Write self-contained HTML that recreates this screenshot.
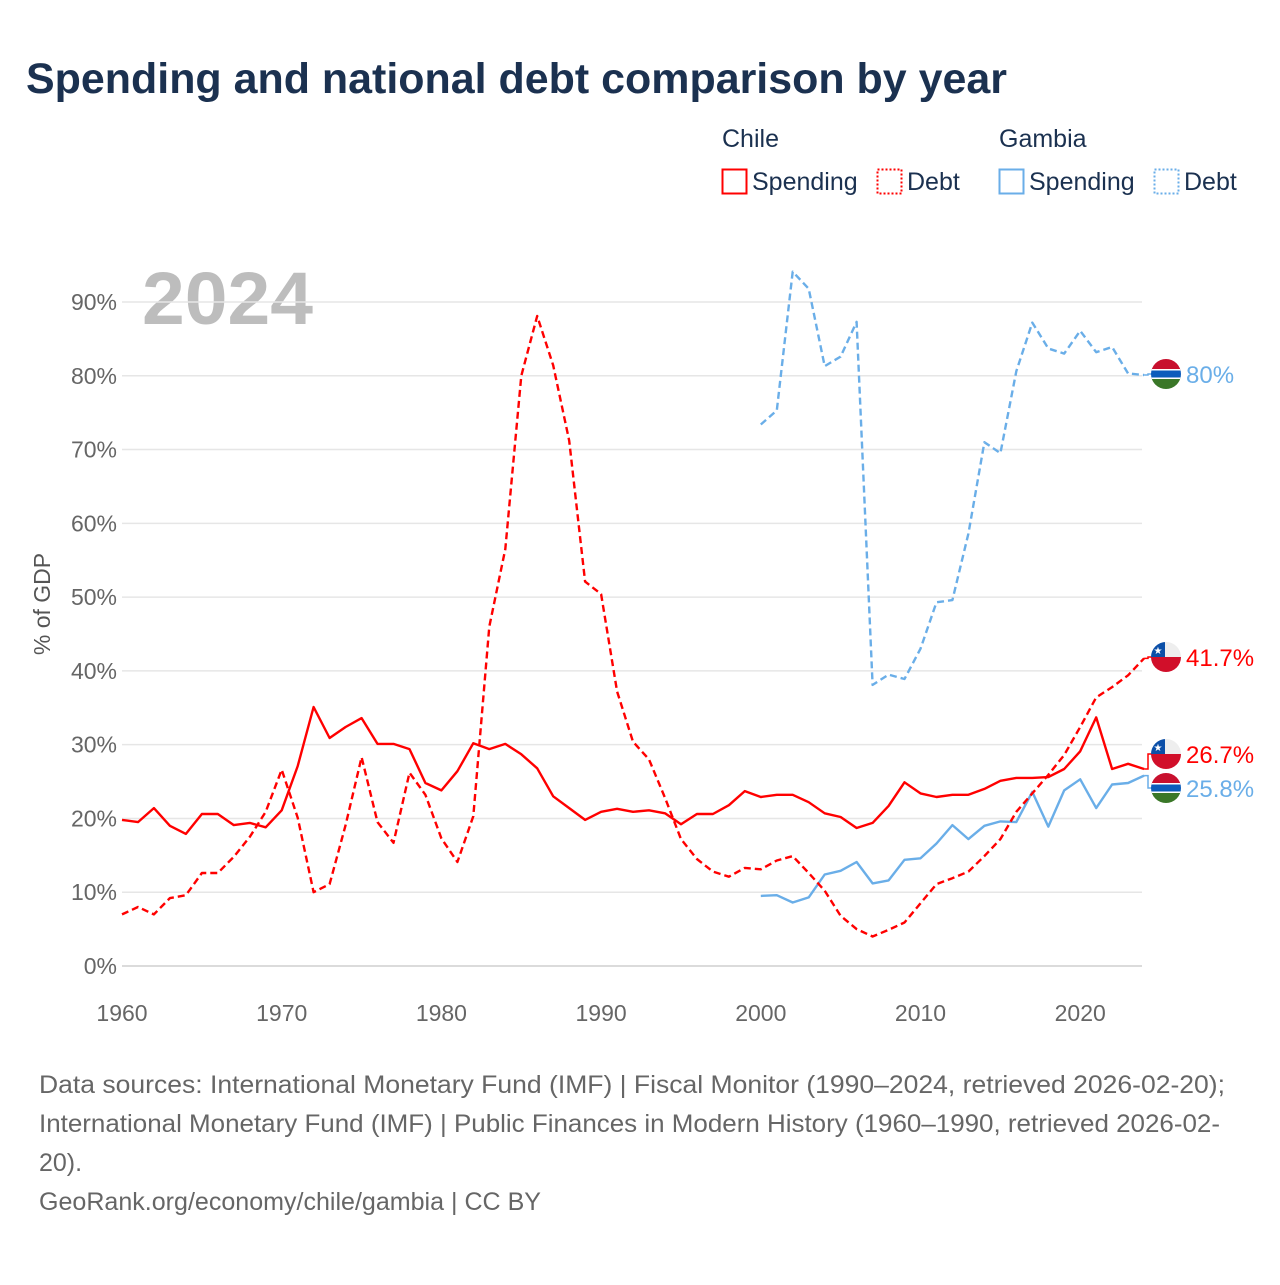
<!DOCTYPE html>
<html><head><meta charset="utf-8">
<style>
body{margin:0;background:#fff;}
svg text{font-family:"Liberation Sans",sans-serif;}
</style></head>
<body>
<svg id="chart" width="1280" height="1280" xmlns="http://www.w3.org/2000/svg">
<defs>
<clipPath id="cf1"><circle cx="0" cy="0" r="15"/></clipPath>
</defs>
<text x="26" y="93" font-size="43" font-weight="bold" fill="#1b3150" textLength="981" lengthAdjust="spacingAndGlyphs">Spending and national debt comparison by year</text>
<g fill="#1b3150" font-size="25">
<text x="722" y="147">Chile</text>
<text x="999" y="147">Gambia</text>
<g><rect x="722.5" y="169.5" width="24" height="24" fill="none" stroke="#ff0000" stroke-width="2"/><text x="752" y="190">Spending</text></g>
<g><rect x="877.5" y="169.5" width="24" height="24" fill="none" stroke="#ff0000" stroke-width="2" stroke-dasharray="2,2"/><text x="907" y="190">Debt</text></g>
<g><rect x="999.5" y="169.5" width="24" height="24" fill="none" stroke="#6aaee8" stroke-width="2"/><text x="1029" y="190">Spending</text></g>
<g><rect x="1154.5" y="169.5" width="24" height="24" fill="none" stroke="#6aaee8" stroke-width="2" stroke-dasharray="2,2"/><text x="1184" y="190">Debt</text></g>
</g>
<text x="142" y="324" font-size="74" font-weight="bold" fill="#bdbdbd" textLength="171" lengthAdjust="spacingAndGlyphs">2024</text>
<text transform="translate(50,604) rotate(-90)" text-anchor="middle" font-size="23" fill="#555">% of GDP</text>
<g id="grid"></g><g id="series"></g><g id="labels"></g>
<g font-size="25" fill="#666">
<text x="39" y="1093" textLength="1186" lengthAdjust="spacingAndGlyphs">Data sources: International Monetary Fund (IMF) | Fiscal Monitor (1990–2024, retrieved 2026-02-20);</text>
<text x="39" y="1132" textLength="1181" lengthAdjust="spacingAndGlyphs">International Monetary Fund (IMF) | Public Finances in Modern History (1960–1990, retrieved 2026-02-</text>
<text x="39" y="1171">20).</text>
<text x="39" y="1210" textLength="502" lengthAdjust="spacingAndGlyphs">GeoRank.org/economy/chile/gambia | CC BY</text>
</g>
</svg>
<script>
const chileSpendYears=[1960,1961,1962,1963,1964,1965,1966,1967,1968,1969,1970,1971,1972,1973,1974,1975,1976,1977,1978,1979,1980,1981,1982,1983,1984,1985,1986,1987,1988,1989,1990,1991,1992,1993,1994,1995,1996,1997,1998,1999,2000,2001,2002,2003,2004,2005,2006,2007,2008,2009,2010,2011,2012,2013,2014,2015,2016,2017,2018,2019,2020,2021,2022,2023,2024];
const chileSpending=[19.8,19.5,21.4,19.0,17.9,20.6,20.6,19.1,19.4,18.8,21.1,27.1,35.1,30.9,32.4,33.6,30.1,30.1,29.4,24.8,23.8,26.4,30.2,29.4,30.1,28.7,26.8,23.0,21.4,19.8,20.9,21.3,20.9,21.1,20.7,19.2,20.6,20.6,21.8,23.7,22.9,23.2,23.2,22.2,20.7,20.2,18.7,19.4,21.7,24.9,23.4,22.9,23.2,23.2,24.0,25.1,25.5,25.5,25.6,26.7,29.1,33.7,26.7,27.4,26.7];
const chileDebt=[7.0,8.0,7.0,9.2,9.6,12.6,12.6,14.8,17.5,20.9,26.6,20.1,10.0,11.1,19.1,28.3,19.5,16.7,26.2,23.2,17.3,14.1,20.3,46.0,56.5,80.0,88.1,81.4,71.2,52.1,50.4,37.2,30.4,28.0,22.8,17.2,14.5,12.8,12.1,13.3,13.1,14.3,14.9,12.6,10.2,6.8,5.0,4.0,4.9,5.9,8.5,11.1,11.9,12.8,14.9,17.2,20.9,23.4,25.9,28.6,32.4,36.4,37.8,39.4,41.7];
const gambiaYears=[2000,2001,2002,2003,2004,2005,2006,2007,2008,2009,2010,2011,2012,2013,2014,2015,2016,2017,2018,2019,2020,2021,2022,2023,2024];
const gambiaSpending=[9.5,9.6,8.6,9.3,12.4,12.9,14.1,11.2,11.6,14.4,14.6,16.6,19.1,17.2,19.0,19.6,19.5,23.6,18.9,23.8,25.3,21.4,24.6,24.8,25.8];
const gambiaDebt=[73.4,75.3,94.1,91.8,81.3,82.6,87.3,38.1,39.5,38.9,43.0,49.3,49.6,58.6,71.0,69.5,80.6,87.2,83.7,83.0,86.1,83.2,83.9,80.3,80.1];
const yTicks=[0,10,20,30,40,50,60,70,80,90];
const xTicks=[1960,1970,1980,1990,2000,2010,2020];

const NS="http://www.w3.org/2000/svg";
const X=y=>122+(y-1960)*15.97;
const Y=v=>966-v*7.378;
function mk(tag,attrs,parent){const e=document.createElementNS(NS,tag);for(const k in attrs)e.setAttribute(k,attrs[k]);parent.appendChild(e);return e;}
const grid=document.getElementById('grid');
yTicks.forEach(t=>{
  const l=mk('line',{x1:122,x2:1142,y1:Y(t),y2:Y(t),stroke:t===0?'#cfcfcf':'#e6e6e6','stroke-width':1.5},grid);
  
  
  const tx=mk('text',{x:117,y:Y(t)+8,'text-anchor':'end','font-size':23,fill:'#666'},grid);
  tx.textContent=t+'%';
  
  
});
xTicks.forEach(t=>{
  const tx=mk('text',{x:X(t),y:1021,'text-anchor':'middle','font-size':23,fill:'#666'},grid);
  tx.textContent=t;
  
  
});
const ser=document.getElementById('series');
function line(years,vals,color,dash,name){
  const d=vals.map((v,i)=>(i?'L':'M')+X(years[i]).toFixed(1)+','+Y(v).toFixed(1)).join('');
  const p=mk('path',{d:d,fill:'none',stroke:color,'stroke-width':2.4,'stroke-linejoin':'round'},ser);
  if(dash)p.setAttribute('stroke-dasharray','7,4');
  
  
}
line(gambiaYears,gambiaDebt,'#6aaee8',true,'gambia-debt-line');
line(gambiaYears,gambiaSpending,'#6aaee8',false,'gambia-spending-line');
line(chileSpendYears,chileDebt,'#ff0000',true,'chile-debt-line');
line(chileSpendYears,chileSpending,'#ff0000',false,'chile-spending-line');

const lab=document.getElementById('labels');
function flag(cy,country,vy,color,text,name){
  const g=mk('g',{},lab);
  
  
  const ex=X(2024);
  mk('path',{d:`M${ex},${vy}H1148V${cy}H1152`,fill:'none',stroke:color,'stroke-width':1.5},g);
  const f=mk('g',{transform:`translate(1166,${cy})`,'clip-path':'url(#cf1)'},g);
  if(country==='chile'){
    mk('rect',{x:-15,y:-15,width:30,height:15,fill:'#eeeeee'},f);
    mk('rect',{x:-15,y:0,width:30,height:15,fill:'#d10f2a'},f);
    mk('rect',{x:-15,y:-15,width:14,height:15,fill:'#0b4fa8'},f);
    mk('text',{x:-8,y:-3,'text-anchor':'middle','font-size':10,fill:'#fff'},f).textContent='★';
  } else {
    mk('rect',{x:-15,y:-15,width:30,height:11,fill:'#c8102e'},f);
    mk('rect',{x:-15,y:-4,width:30,height:8,fill:'#0c5cbb'},f);
    mk('rect',{x:-15,y:4,width:30,height:11,fill:'#3a7728'},f);
    mk('rect',{x:-15,y:-5,width:30,height:1.5,fill:'#fff'},f);
    mk('rect',{x:-15,y:3.5,width:30,height:1.5,fill:'#fff'},f);
  }
  const t=mk('text',{x:1186,y:cy+9,'font-size':24,fill:color},g);
  t.textContent=text;
}
flag(374,'gambia',Y(gambiaDebt[gambiaDebt.length-1]),'#6aaee8',gambiaDebt[gambiaDebt.length-1].toFixed(0)+'%','gambia-debt-end-label');
flag(657,'chile',Y(chileDebt[chileDebt.length-1]),'#ff0000',chileDebt[chileDebt.length-1]+'%','chile-debt-end-label');
flag(754,'chile',Y(chileSpending[chileSpending.length-1]),'#ff0000',chileSpending[chileSpending.length-1]+'%','chile-spending-end-label');
flag(788,'gambia',Y(gambiaSpending[gambiaSpending.length-1]),'#6aaee8',gambiaSpending[gambiaSpending.length-1]+'%','gambia-spending-end-label');
</script>
</body></html>
